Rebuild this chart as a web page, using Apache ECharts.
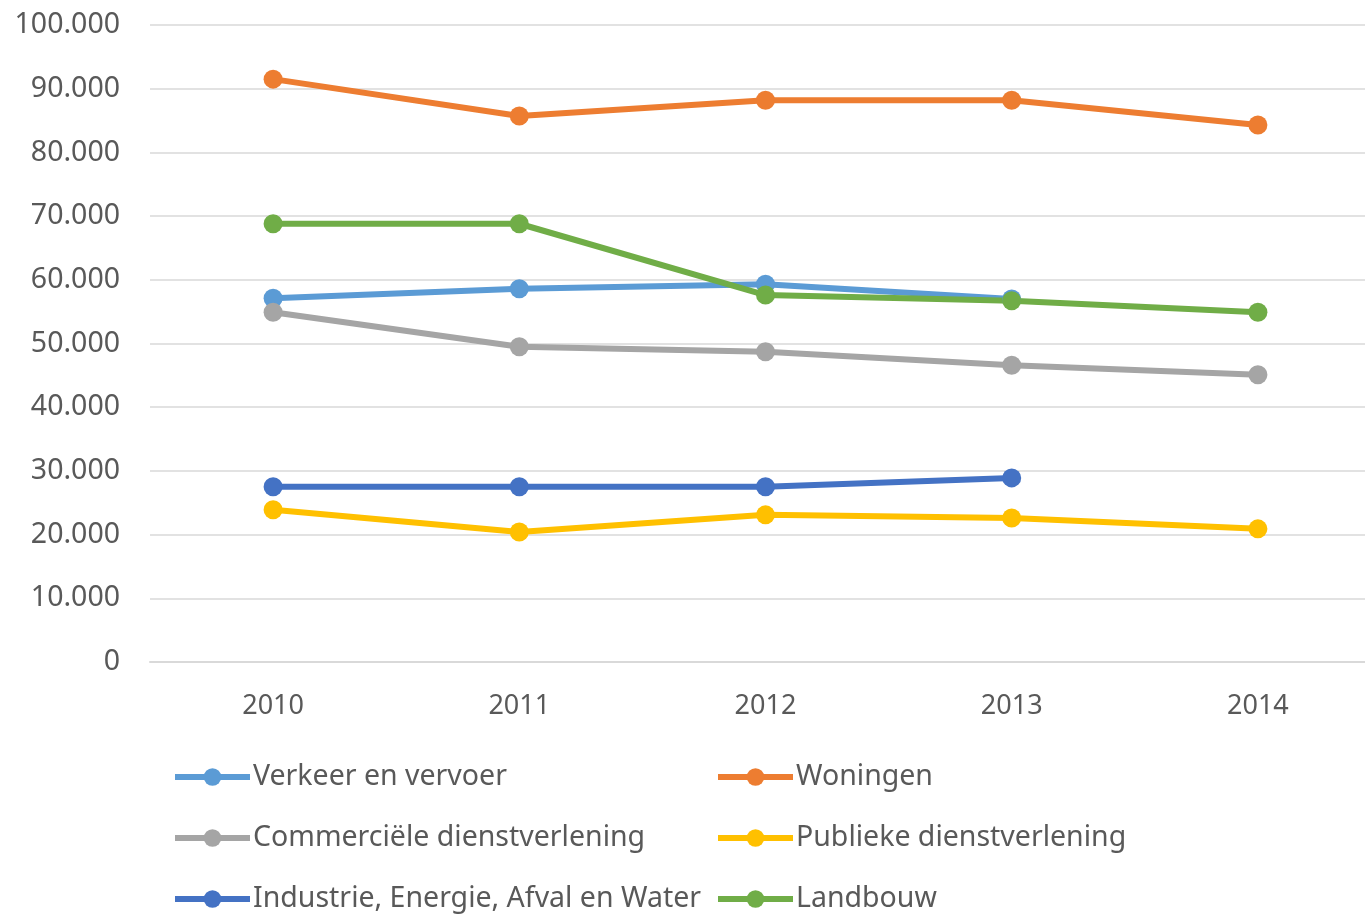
<!DOCTYPE html>
<html><head><meta charset="utf-8">
<script src="https://cdn.jsdelivr.net/npm/echarts@6/dist/echarts.min.js"></script>
<style>html,body{margin:0;padding:0;background:#fff}#c{width:1365px;height:914px}</style>
</head><body><div id="c"></div>
<script>
const years = ['2010','2011','2012','2013','2014'];
const verkeer = [57100, 58600, 59300, 57000, null];
const woningen = [91500, 85700, 88200, 88200, 84300];
const commercieel = [54900, 49500, 48700, 46600, 45100];
const publiek = [23900, 20400, 23100, 22600, 20900];
const industrie = [27500, 27500, 27500, 28900, null];
const landbouw = [68800, 68800, 57600, 56700, 54900];
const names = ['Verkeer en vervoer','Woningen','Commerciële dienstverlening','Publieke dienstverlening','Industrie, Energie, Afval en Water','Landbouw'];
const colors = ['#5B9BD5','#ED7D31','#A5A5A5','#FFC000','#4472C4','#70AD47'];
const dataSets = [verkeer, woningen, commercieel, publiek, industrie, landbouw];
const font = 'Noto Sans';
const chart = echarts.init(document.getElementById('c'));
function legend(left, data){
  return {orient:'vertical', left:left, top:762, height:200, padding:0, data:data,
    itemWidth:75, itemHeight:22, itemGap:31,
    lineStyle:{width:6},
    textStyle:{fontFamily:font, fontSize:28.5, lineHeight:30, color:'#595959', padding:[0,0,0,-2]}};
}
chart.setOption({
  animation:false,
  color: colors,
  grid:{left:150, width:1231, top:25, bottom:252, outerBoundsMode:'none', containLabel:false},
  legend:[ legend(172,[names[0],names[2],names[4]]), legend(715,[names[1],names[3],names[5]]) ],
  xAxis:{type:'category', data:years, boundaryGap:true,
    axisLine:{lineStyle:{color:'#d9d9d9', width:2}}, axisTick:{show:false},
    axisLabel:{fontFamily:font, fontSize:27, color:'#595959', margin:31}},
  yAxis:{type:'value', min:0, max:100000, interval:10000,
    axisLine:{show:false}, axisTick:{show:false},
    splitLine:{lineStyle:{color:'#d9d9d9', width:1.5}},
    axisLabel:{fontFamily:font, fontSize:28.5, color:'#595959', margin:30,
      formatter:v=>v===0?'0':v.toLocaleString('de-DE')}},
  series: dataSets.map((d,i)=>({name:names[i], type:'line', data:d, symbol:'circle', symbolSize:19,
    lineStyle:{width:6, color:colors[i]}, itemStyle:{color:colors[i]}, connectNulls:false}))
});
</script></body></html>
